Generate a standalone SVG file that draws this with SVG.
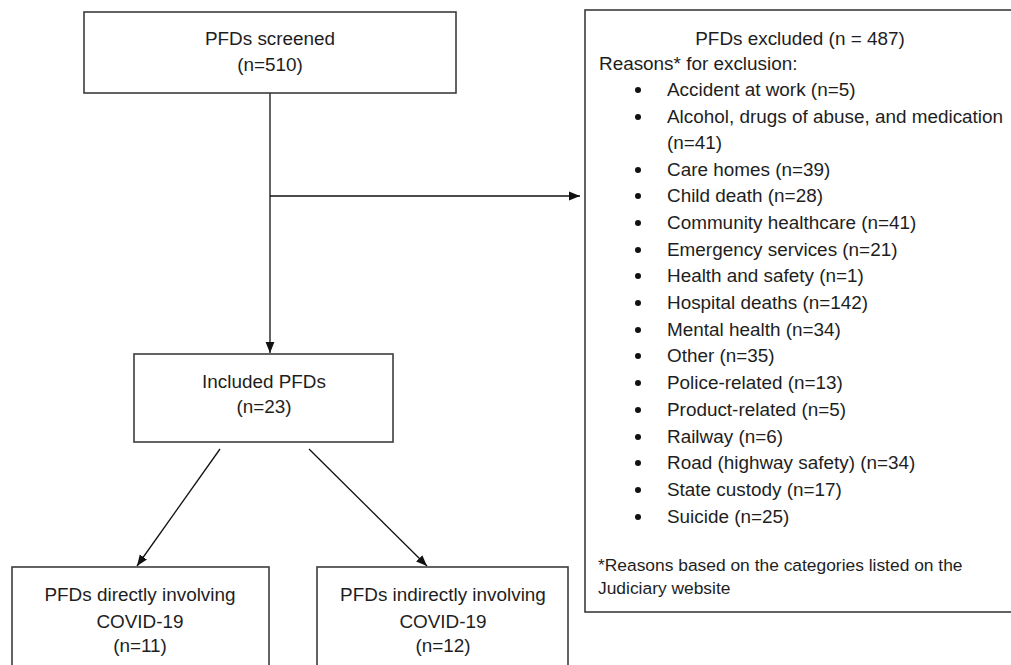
<svg xmlns="http://www.w3.org/2000/svg" width="1011" height="665" viewBox="0 0 1011 665">
<style>
.box{fill:#fff;stroke:#3c3c3c;stroke-width:1.6}
.t{font-family:"Liberation Sans",Arial,sans-serif;font-size:18.9px;fill:#1e1e1e}
.c{text-anchor:middle}
.fn{font-size:17.4px}
.ln{stroke:#111;stroke-width:1.3;fill:none}
.bul{fill:#111}
</style>
<defs>
<marker id="ah" viewBox="0 0 10 10" refX="10" refY="5" markerWidth="11" markerHeight="11" markerUnits="userSpaceOnUse" orient="auto">
<path d="M0,1 L10,5 L0,9 Z" fill="#111"/>
</marker>
</defs>
<rect width="1011" height="665" fill="#fff"/>
<g id="connectors">
<line class="ln" x1="270" y1="93" x2="270" y2="353" marker-end="url(#ah)"/>
<line class="ln" x1="270" y1="196" x2="580" y2="196" marker-end="url(#ah)"/>
<line class="ln" x1="220" y1="449" x2="137" y2="566" marker-end="url(#ah)"/>
<line class="ln" x1="309" y1="449" x2="427" y2="566" marker-end="url(#ah)"/>
</g>
<g id="screened">
<rect class="box" x="84" y="12" width="372" height="81"/>
<text class="t c" x="270" y="45">PFDs screened</text>
<text class="t c" x="270" y="71">(n=510)</text>
</g>
<g id="excluded">
<rect class="box" x="585" y="10" width="430" height="602"/>
<text class="t c" x="800" y="45">PFDs excluded (n = 487)</text>
<text class="t" x="599" y="70">Reasons* for exclusion:</text>
<g class="bul">
<circle cx="638" cy="90" r="3"/>
<circle cx="638" cy="117" r="3"/>
<circle cx="638" cy="170" r="3"/>
<circle cx="638" cy="196" r="3"/>
<circle cx="638" cy="223" r="3"/>
<circle cx="638" cy="250" r="3"/>
<circle cx="638" cy="276" r="3"/>
<circle cx="638" cy="303" r="3"/>
<circle cx="638" cy="330" r="3"/>
<circle cx="638" cy="356" r="3"/>
<circle cx="638" cy="383" r="3"/>
<circle cx="638" cy="410" r="3"/>
<circle cx="638" cy="437" r="3"/>
<circle cx="638" cy="463" r="3"/>
<circle cx="638" cy="490" r="3"/>
<circle cx="638" cy="517" r="3"/>
</g>
<text class="t" x="667" y="96">Accident at work (n=5)</text>
<text class="t" x="667" y="123">Alcohol, drugs of abuse, and medication</text>
<text class="t" x="667" y="149">(n=41)</text>
<text class="t" x="667" y="176">Care homes (n=39)</text>
<text class="t" x="667" y="202">Child death (n=28)</text>
<text class="t" x="667" y="229">Community healthcare (n=41)</text>
<text class="t" x="667" y="256">Emergency services (n=21)</text>
<text class="t" x="667" y="282">Health and safety (n=1)</text>
<text class="t" x="667" y="309">Hospital deaths (n=142)</text>
<text class="t" x="667" y="336">Mental health (n=34)</text>
<text class="t" x="667" y="362">Other (n=35)</text>
<text class="t" x="667" y="389">Police-related (n=13)</text>
<text class="t" x="667" y="416">Product-related (n=5)</text>
<text class="t" x="667" y="443">Railway (n=6)</text>
<text class="t" x="667" y="469">Road (highway safety) (n=34)</text>
<text class="t" x="667" y="496">State custody (n=17)</text>
<text class="t" x="667" y="523">Suicide (n=25)</text>
<text class="t fn" x="598" y="571">*Reasons based on the categories listed on the</text>
<text class="t fn" x="598" y="594">Judiciary website</text>
</g>
<g id="included">
<rect class="box" x="134" y="354" width="259" height="88"/>
<text class="t c" x="264" y="388">Included PFDs</text>
<text class="t c" x="264" y="413">(n=23)</text>
</g>
<g id="direct">
<rect class="box" x="12" y="567" width="257" height="110"/>
<text class="t c" x="140" y="601">PFDs directly involving</text>
<text class="t c" x="140" y="628">COVID-19</text>
<text class="t c" x="140" y="652">(n=11)</text>
</g>
<g id="indirect">
<rect class="box" x="317" y="567" width="251" height="110"/>
<text class="t c" x="443" y="601">PFDs indirectly involving</text>
<text class="t c" x="443" y="628">COVID-19</text>
<text class="t c" x="443" y="652">(n=12)</text>
</g>
</svg>
